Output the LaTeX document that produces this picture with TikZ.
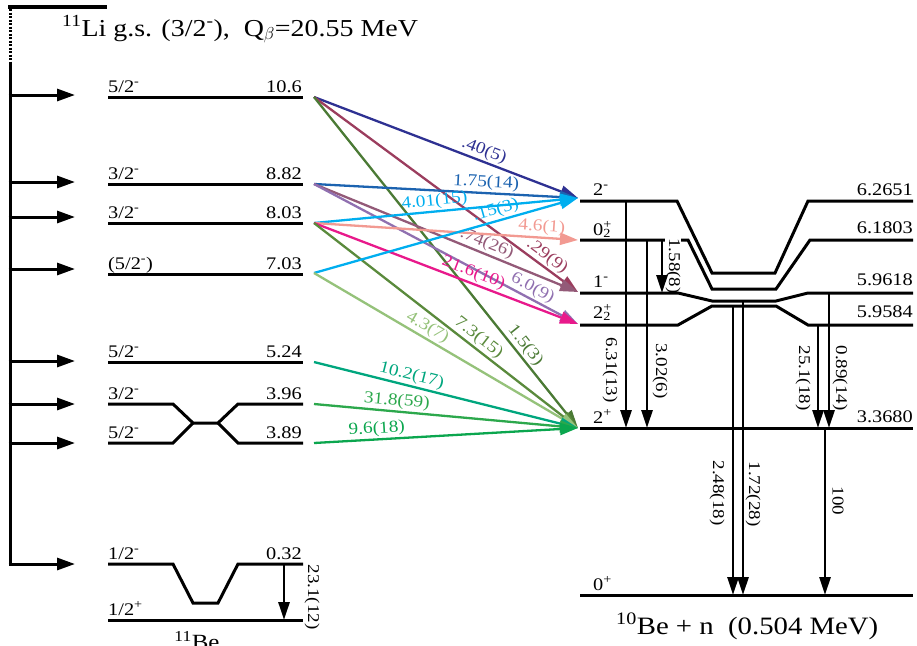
\documentclass[tikz,border=0pt]{standalone}
\usepackage{fontspec}
\setmainfont{Liberation Serif}[FakeStretch=1.15]
\usetikzlibrary{arrows.meta}

\definecolor{cNavy}{HTML}{2E3192}
\definecolor{cBlue}{HTML}{1C63B0}
\definecolor{cCyan}{HTML}{00AEEF}
\definecolor{cSalmon}{HTML}{F29A92}
\definecolor{cMauve}{HTML}{935A78}
\definecolor{cMaroon}{HTML}{9B3D5E}
\definecolor{cPurple}{HTML}{9070B0}
\definecolor{cMagenta}{HTML}{E8198B}
\definecolor{cOlive}{HTML}{5A8A3C}
\definecolor{cDkGreen}{HTML}{4B7A35}
\definecolor{cLtGreen}{HTML}{95C27A}
\definecolor{cTeal}{HTML}{00A67E}
\definecolor{cGreen}{HTML}{2CA84C}
\definecolor{cGreenB}{HTML}{0BA64E}

\begin{document}
\begin{tikzpicture}[
    x=1pt, y=-1pt,
    font=\fontsize{17.7}{20}\selectfont,
    lvl/.style={line width=3pt},
    feed/.style={line width=3pt, -{Triangle[length=18pt, width=12pt]}},
    gam/.style={line width=2.8pt, -{Triangle[length=18pt, width=11pt]}},
    bdn/.style={line width=2.3pt, -{Triangle[length=18pt, width=12pt]}},
    tag/.style={inner sep=0pt},
    blab/.style={font=\fontsize{16.8}{18}\selectfont, sloped, above, inner sep=1.5pt},
    glab/.style={font=\fontsize{16.5}{18}\selectfont, rotate=-90, inner sep=1pt}
  ]
  \clip (0,0) rectangle (917,645);

  % 11Li feeding
  \draw[line width=4.5pt] (8,7) -- (107,7);
  \draw[line width=3pt, dash pattern=on 2pt off 1.5pt] (10,9) -- (10,62);
  \draw[line width=3pt] (10,62) -- (10,565.5);
  \foreach \n/\y in {a/95,b/182,c/217,d/269,e/361,f/404,g/443,h/564} {
    \coordinate (f\n) at (8.5,\y);
    \draw[feed] (f\n) -- (75,\y);
  }
  \node[tag, anchor=base west, font=\fontsize{24.3}{26}\selectfont] (title) at (62,36)
    {\textsuperscript{11}Li g.s. (3/2\textsuperscript{-}), \ Q\textsubscript{$\beta$}=20.55 MeV};

  % 11Be levels
  \draw[lvl] (108,97) -- (303,97);
  \draw[lvl] (108,184) -- (303,184);
  \draw[lvl] (108,223) -- (303,223);
  \draw[lvl] (108,274) -- (303,274);
  \draw[lvl] (108,362) -- (303,362);
  \draw[lvl] (108,404) -- (173,404) -- (193,423) -- (218,423) -- (238,404) -- (303,404);
  \draw[lvl] (108,443) -- (173,443) -- (193,423);
  \draw[lvl] (218,423) -- (238,443) -- (303,443);
  \draw[lvl] (108,564) -- (173,564) -- (193,603) -- (218,603) -- (238,564) -- (303,564);
  \draw[lvl] (108,620) -- (303,620);

  \node[tag, anchor=base west] (j106) at (108,92) {5/2\textsuperscript{-}};
  \node[tag, anchor=base east] (e106) at (302,92) {10.6};
  \node[tag, anchor=base west] (j882) at (108,179) {3/2\textsuperscript{-}};
  \node[tag, anchor=base east] (e882) at (302,179) {8.82};
  \node[tag, anchor=base west] (j803) at (108,218) {3/2\textsuperscript{-}};
  \node[tag, anchor=base east] (e803) at (302,218) {8.03};
  \node[tag, anchor=base west] (j703) at (108,269) {(5/2\textsuperscript{-})};
  \node[tag, anchor=base east] (e703) at (302,269) {7.03};
  \node[tag, anchor=base west] (j524) at (108,357) {5/2\textsuperscript{-}};
  \node[tag, anchor=base east] (e524) at (302,357) {5.24};
  \node[tag, anchor=base west] (j396) at (108,399) {3/2\textsuperscript{-}};
  \node[tag, anchor=base east] (e396) at (302,399) {3.96};
  \node[tag, anchor=base west] (j389) at (108,438) {5/2\textsuperscript{-}};
  \node[tag, anchor=base east] (e389) at (302,438) {3.89};
  \node[tag, anchor=base west] (j032) at (108,559) {1/2\textsuperscript{-}};
  \node[tag, anchor=base east] (e032) at (302,559) {0.32};
  \node[tag, anchor=base west] (j000) at (108,615) {1/2\textsuperscript{+}};
  \node[tag, anchor=base, font=\fontsize{21.7}{24}\selectfont] (be11) at (197,649) {\textsuperscript{11}Be};

  % 10Be levels
  \draw[lvl] (580,201) -- (677,201) -- (712,273) -- (775,273) -- (808,201) -- (913,201);
  \draw[lvl] (580,240) -- (688,240) -- (712,289) -- (776,289) -- (810,240) -- (913,240);
  \node[glab, fill=white] (l3) at (673,266) {1.58(8)};
  \draw[lvl] (580,293) -- (678,293) -- (712,301) -- (776,301) -- (808,293) -- (913,293);
  \draw[lvl] (580,325) -- (678,325) -- (712,306) -- (776,306) -- (808,325) -- (913,325);
  \draw[lvl] (580,428) -- (913,428);
  \draw[lvl] (580,595) -- (913,595);

  \node[tag, anchor=base west] (s2m) at (593,195) {2\textsuperscript{-}};
  \node[tag, anchor=base west] (s0p) at (593,235) {0\rlap{\textsuperscript{+}}\textsubscript{2}};
  \node[tag, anchor=base west] (s1m) at (593,287) {1\textsuperscript{-}};
  \node[tag, anchor=base west] (s22) at (593,318) {2\rlap{\textsuperscript{+}}\textsubscript{2}};
  \node[tag, anchor=base west] (s2p) at (593,423) {2\textsuperscript{+}};
  \node[tag, anchor=base west] (s0g) at (593,590) {0\textsuperscript{+}};
  \node[tag, anchor=base east] (r2m) at (913,195) {6.2651};
  \node[tag, anchor=base east] (r0p) at (913,233) {6.1803};
  \node[tag, anchor=base east] (r1m) at (913,285) {5.9618};
  \node[tag, anchor=base east] (r22) at (913,317) {5.9584};
  \node[tag, anchor=base east] (r2p) at (913,422) {3.3680};
  \node[tag, anchor=base west, font=\fontsize{25}{28}\selectfont] (be10) at (616,634)
    {\textsuperscript{10}Be + n \ (0.504 MeV)};

  % gamma transitions
  \foreach \x/\ys/\ye [count=\i] in {626/201/428, 647/240/428, 662/240/293, 733/306/595,
      743/301/595, 818/325/428, 829/293/428, 825/428/595, 284/564/620} {
    \coordinate (gs\i) at (\x,\ys);
    \coordinate (ge\i) at (\x,\ye);
    \draw[gam] (gs\i) -- (ge\i);
  }
  \node[glab] (l1) at (610,370) {6.31(13)};
  \node[glab] (l2) at (660,371) {3.02(6)};
  \node[glab] (l4) at (717,493) {2.48(18)};
  \node[glab] (l5) at (753,494) {1.72(28)};
  \node[glab] (l6) at (803,378) {25.1(18)};
  \node[glab] (l7) at (840,378) {0.89(14)};
  \node[glab] (l8) at (838,501) {100};
  \node[glab] (l9) at (312,597) {23.1(12)};

  % beta-delayed neutrons
  \coordinate (s106) at (314,97);
  \coordinate (s882) at (314,184);
  \coordinate (s803) at (314,223);
  \coordinate (s703) at (314,273);
  \coordinate (s524) at (314,362);
  \coordinate (s396) at (314,404);
  \coordinate (s389) at (314,443);
  \coordinate (t2m) at (578,198);
  \coordinate (t0p) at (578,240);
  \coordinate (t1m) at (578,292);
  \coordinate (t22) at (578,324);
  \coordinate (t2p) at (578,428);

  \draw[bdn, cNavy] (s106) -- node[blab, pos=.63] {.40(5)} (t2m);
  \draw[bdn, cMaroon] (s106) -- node[blab, pos=.86] {.29(9)} (t1m);
  \draw[bdn, cDkGreen] (s106) -- node[blab, pos=.77] {1.5(3)} (t2p);
  \draw[bdn, cBlue] (s882) -- node[blab, pos=.65] {1.75(14)} (t2m);
  \draw[bdn, cMauve] (s882) -- node[blab, pos=.64] {.74(26)} (t1m);
  \draw[bdn, cPurple] (s882) -- node[blab, pos=.81] {6.0(9)} (t22);
  \draw[bdn, cCyan] (s803) -- node[blab, pos=.46] {4.01(15)} (t2m);
  \draw[bdn, cSalmon] (s803) -- node[blab, pos=.86] {4.6(1)} (t0p);
  \draw[bdn, cMagenta] (s803) -- node[blab, pos=.59] {21.6(10)} (t22);
  \draw[bdn, cOlive] (s803) -- node[blab, pos=.60] {7.3(15)} (t2p);
  \draw[bdn, cCyan] (s703) -- node[blab, pos=.70] {.15(3)} (t2m);
  \draw[bdn, cLtGreen] (s703) -- node[blab, pos=.41] {4.3(7)} (t2p);
  \draw[bdn, cTeal] (s524) -- node[blab, pos=.36] {10.2(17)} (t2p);
  \draw[bdn, cGreen] (s396) -- node[blab, pos=.31] {31.8(59)} (t2p);
  \draw[bdn, cGreenB] (s389) -- node[blab, pos=.24] {9.6(18)} (t2p);
\end{tikzpicture}
\end{document}
